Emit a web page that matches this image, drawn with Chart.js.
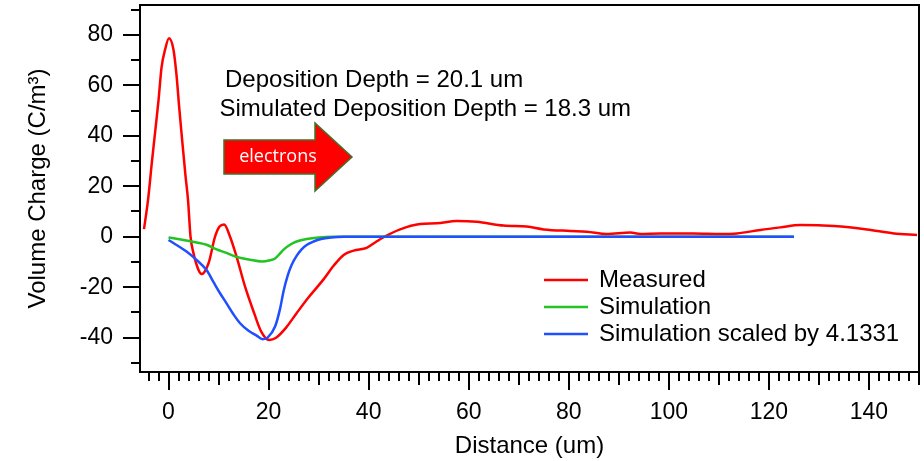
<!DOCTYPE html>
<html>
<head>
<meta charset="utf-8">
<script src="https://cdn.jsdelivr.net/npm/chart.js@4/dist/chart.umd.min.js"></script>
<style>
  html, body { margin: 0; padding: 0; background: #fff; }
  #chart { display: block; }
</style>
</head>
<body>
<canvas id="chart" width="924" height="461"></canvas>
<script>
// values: distance (um) vs volume charge (C/m^3)
const measuredX = [-4.9, -4.1, -3.3, -2.7, -2.0, -1.4, -0.7, 0.1, 1.0, 1.6, 2.1, 2.6, 3.4, 3.9, 4.4, 5.0, 6.0, 6.6, 8.0, 9.3, 10.2, 11.1, 12.3, 13.6, 15.3, 17.1, 18.5, 20.1, 21.5, 23.5, 25.6, 28.0, 30.9, 33.0, 35.0, 37.0, 39.6, 41.5, 43.0, 46.3, 50.3, 53.6, 57.6, 61.6, 67.0, 71.6, 75.0, 80.3, 83.6, 87.6, 92.3, 94.3, 98.3, 105.0, 110.3, 113.6, 118.3, 122.3, 126.3, 133.0, 139.6, 145.0, 149.6];
const measuredY = [3, 14.5, 30, 41, 54, 67, 74, 78.6, 74, 64, 52, 41, 24, 14.5, 0, -6.6, -13.2, -14.8, -10.5, 0, 4, 4.8, 0, -7.9, -19.8, -30.2, -37.5, -40.9, -40, -36, -30.3, -24, -17.1, -11.5, -7.2, -5.5, -4.4, -2, -0.2, 2.9, 5.0, 5.3, 6.2, 5.9, 4.4, 4.0, 2.9, 2.3, 2.0, 1.1, 1.7, 1.1, 1.3, 1.3, 1.1, 1.3, 2.7, 3.7, 4.6, 4.2, 2.9, 1.3, 0.7];

const simX = [0, 3.0, 5.6, 7.6, 9.6, 11.6, 13.6, 16.3, 18.6, 20.3, 21.3, 22.3, 23.0, 24.3, 25.6, 27.6, 30.0, 33.0, 40.0, 125.0];
const simY = [-0.3, -1.3, -2.3, -3.2, -5.0, -6.4, -8.0, -9.1, -9.8, -9.3, -8.6, -6.6, -5.1, -3.2, -1.9, -0.9, -0.3, -0.05, 0, 0];

const scaledX = [0, 3.6, 5.6, 7.6, 9.0, 10.3, 11.6, 13.0, 14.3, 16.0, 17.6, 18.8, 19.8, 21.3, 22.3, 23.0, 23.8, 24.6, 25.6, 26.6, 27.6, 29.0, 30.5, 32.5, 35.0, 125.0];
const scaledY = [-1.3, -5.9, -9.2, -13.2, -18, -22.4, -26.4, -30.8, -34.3, -37.3, -39.2, -40.6, -40, -35.6, -28.5, -21.5, -15.5, -11.2, -7.6, -5.0, -3.3, -1.9, -0.9, -0.3, 0, 0];

const xTickLabels = [0, 20, 40, 60, 80, 100, 120, 140];
const yTickLabels = [-40, -20, 0, 20, 40, 60, 80];
const seriesNames = ['Measured', 'Simulation', 'Simulation scaled by 4.1331'];
const seriesColors = ['#ff0000', '#22c322', '#1f4fff'];
const notes = ['Deposition Depth = 20.1 um', 'Simulated Deposition Depth = 18.3 um'];

const FONT = '"Liberation Sans", Arial, sans-serif';

function pts(xs, ys) {
    return xs.map((x, i) => ({ x: x, y: ys[i] }));
}

// frame, tick marks, titles, notes, arrow and legend
const decorations = {
    id: 'decorations',
    afterDraw(chart) {
        const ctx = chart.ctx;
        const a = chart.chartArea;
        const xs = chart.scales.x;
        const ys = chart.scales.y;
        ctx.save();

        ctx.strokeStyle = '#000';
        ctx.lineWidth = 2;
        ctx.strokeRect(a.left, a.top, a.right - a.left, a.bottom - a.top);

        ctx.beginPath();
        xs.ticks.forEach(t => {
            const v = Math.round(t.value * 1000) / 1000;
            if (Math.abs(v / 2 - Math.round(v / 2)) > 1e-6) return;
            const len = v % 20 === 0 ? 18 : (v % 10 === 0 ? 13 : 9);
            const px = Math.round(xs.getPixelForValue(v));
            ctx.moveTo(px, a.bottom);
            ctx.lineTo(px, a.bottom + len);
        });
        ys.ticks.forEach(t => {
            const v = Math.round(t.value * 1000) / 1000;
            if (Math.abs(v / 10 - Math.round(v / 10)) > 1e-6) return;
            const len = v % 20 === 0 ? 17 : 9;
            const py = Math.round(ys.getPixelForValue(v));
            ctx.moveTo(a.left - len, py);
            ctx.lineTo(a.left, py);
        });
        ctx.stroke();

        ctx.fillStyle = '#000';
        ctx.font = '24px ' + FONT;
        ctx.textAlign = 'center';
        ctx.textBaseline = 'alphabetic';
        ctx.fillText('Distance (um)', (a.left + a.right) / 2, 452.5);

        ctx.save();
        ctx.translate(45, (a.top + a.bottom) / 2);
        ctx.rotate(-Math.PI / 2);
        ctx.fillText('Volume Charge (C/m\u00B3)', 0, 0);
        ctx.restore();

        ctx.textAlign = 'left';
        ctx.fillText(notes[0], 225, 86.5);
        ctx.fillText(notes[1], 219.5, 115.5);

        // electrons arrow
        ctx.beginPath();
        ctx.moveTo(224, 140);
        ctx.lineTo(315, 140);
        ctx.lineTo(315, 123);
        ctx.lineTo(352, 157);
        ctx.lineTo(315, 191);
        ctx.lineTo(315, 174);
        ctx.lineTo(224, 174);
        ctx.closePath();
        ctx.fillStyle = '#ff0000';
        ctx.fill();
        ctx.strokeStyle = '#41712a';
        ctx.lineWidth = 1.5;
        ctx.stroke();
        ctx.fillStyle = '#fff';
        ctx.font = '18px "Open Sans", sans-serif';
        ctx.textAlign = 'center';
        ctx.textBaseline = 'middle';
        ctx.fillText('electrons', 278, 157);

        // legend
        ctx.font = '24px ' + FONT;
        ctx.textAlign = 'left';
        ctx.textBaseline = 'middle';
        const rows = [280, 307, 334];
        seriesNames.forEach((name, i) => {
            ctx.strokeStyle = seriesColors[i];
            ctx.lineWidth = 2.5;
            ctx.beginPath();
            ctx.moveTo(544, rows[i]);
            ctx.lineTo(588, rows[i]);
            ctx.stroke();
            ctx.fillStyle = '#000';
            ctx.fillText(name, 599, rows[i]);
        });

        ctx.restore();
    }
};

new Chart(document.getElementById('chart'), {
    type: 'line',
    data: {
        // first dataset is painted last, so the scaled curve sits on top
        datasets: [
            { label: seriesNames[2], data: pts(scaledX, scaledY), borderColor: seriesColors[2] },
            { label: seriesNames[1], data: pts(simX, simY), borderColor: seriesColors[1] },
            { label: seriesNames[0], data: pts(measuredX, measuredY), borderColor: seriesColors[0] }
        ]
    },
    options: {
        responsive: false,
        animation: false,
        devicePixelRatio: 1,
        layout: { padding: { left: 0, right: 5, top: 5, bottom: 0 } },
        elements: {
            point: { radius: 0 },
            line: { borderWidth: 2.5, cubicInterpolationMode: 'monotone', fill: false }
        },
        plugins: {
            legend: { display: false },
            tooltip: { enabled: false }
        },
        scales: {
            x: {
                type: 'linear',
                min: -5.7,
                max: 150,
                grid: { display: false, drawTicks: false },
                border: { display: false },
                ticks: {
                    stepSize: 2,
                    includeBounds: false,
                    autoSkip: false,
                    maxRotation: 0,
                    padding: 27,
                    color: '#000',
                    font: { family: FONT, size: 23 },
                    callback: v => xTickLabels.includes(Math.round(v * 1000) / 1000) ? String(Math.round(v)) : ''
                },
                afterFit: s => { s.height = 89; s.paddingLeft = 0; s.paddingRight = 0; }
            },
            y: {
                type: 'linear',
                min: -53.6,
                max: 91.8,
                grid: { display: false, drawTicks: false },
                border: { display: false },
                ticks: {
                    stepSize: 10,
                    includeBounds: false,
                    autoSkip: false,
                    padding: 27,
                    color: '#000',
                    font: { family: FONT, size: 23 },
                    callback: v => yTickLabels.includes(Math.round(v * 1000) / 1000) ? String(Math.round(v)) : ''
                },
                afterFit: s => { s.width = 140; s.paddingTop = 0; s.paddingBottom = 0; }
            }
        }
    },
    plugins: [decorations]
});
</script>
</body>
</html>
